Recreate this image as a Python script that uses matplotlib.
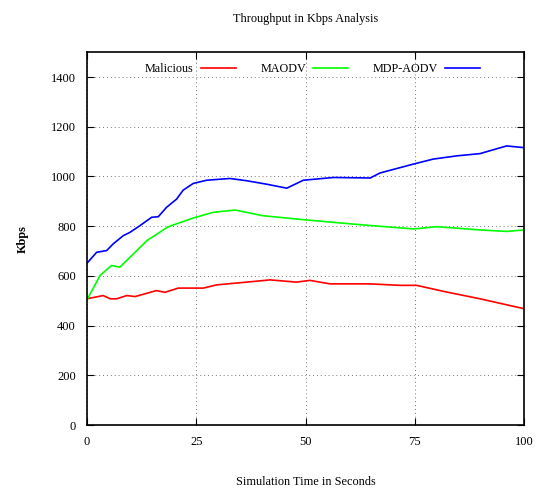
import numpy as np
import matplotlib.pyplot as plt

plt.rcParams['font.family'] = ['Liberation Serif', 'DejaVu Serif']

# time (s) and throughput (Kbps)
t_blue = [0, 2.2, 4.5, 6, 8.3, 9.8, 12.1, 14.8, 16.3, 18.2, 20.5, 22, 24.3, 27.4,
          32.7, 36.5, 41.1, 45.7, 49.5, 56.4, 64.8, 67, 74.7, 79.2, 84.6, 89.9, 96, 100]
mdp_aodv = [651, 695, 702, 729, 762, 775, 802, 836, 838, 876, 909, 945, 972, 985,
            992, 983, 969, 953, 985, 996, 994, 1014, 1050, 1070, 1083, 1092, 1123, 1116]

t_green = [0, 3, 5.6, 7.5, 13.7, 18.6, 24.3, 28.9, 33.9, 40.3, 50.3, 63.2, 74.7,
           80, 89.9, 96, 100]
maodv = [504, 602, 642, 635, 742, 798, 833, 856, 865, 842, 825, 805, 789,
         798, 785, 779, 785]

t_red = [0, 3.7, 5.3, 6.8, 9.1, 11, 15.9, 17.8, 20.9, 26.6, 29.7, 36.5, 41.9,
         47.9, 51, 55.6, 64.8, 71.6, 75.4, 82.3, 89.9, 100]
malicious = [508, 521, 508, 508, 521, 517, 541, 534, 551, 551, 564, 575, 584,
             575, 582, 568, 568, 562, 562, 535, 508, 468]

fig = plt.figure(figsize=(5.37, 4.88), dpi=100)
ax = fig.add_axes([0.162, 0.129, 0.814, 0.764])

ax.plot(t_red, malicious, color='#ff0000', lw=1.2, label='Malicious')
ax.plot(t_green, maodv, color='#00ff00', lw=1.2, label='MAODV')
ax.plot(t_blue, mdp_aodv, color='#0000ff', lw=1.2, label='MDP-AODV')

ax.set_xlim(0, 100)
ax.set_ylim(0, 1500)
ax.set_xticks([0, 25, 50, 75, 100])
ax.set_yticks(np.arange(0, 1401, 200))
ax.tick_params(direction='in', top=True, right=True, length=5, labelsize=9, pad=8)
ax.grid(True, linestyle=(0, (1, 3)), color='#777777', lw=0.7)
for s in ax.spines.values():
    s.set_linewidth(1.2)

ax.set_title('Throughput in Kbps Analysis', fontsize=8.8, pad=22)
ax.set_xlabel('Simulation Time in Seconds', fontsize=8.8, labelpad=20)
ax.set_ylabel('Kbps', fontsize=8.8, fontweight='bold', labelpad=16)

ax.legend(loc='upper center', bbox_to_anchor=(0.516, 1.0), ncol=3, frameon=False,
          markerfirst=False, handlelength=2.9, handletextpad=0.6,
          columnspacing=2.0, fontsize=8.7, borderaxespad=0.5)

fig.savefig('out.png', dpi=100)
